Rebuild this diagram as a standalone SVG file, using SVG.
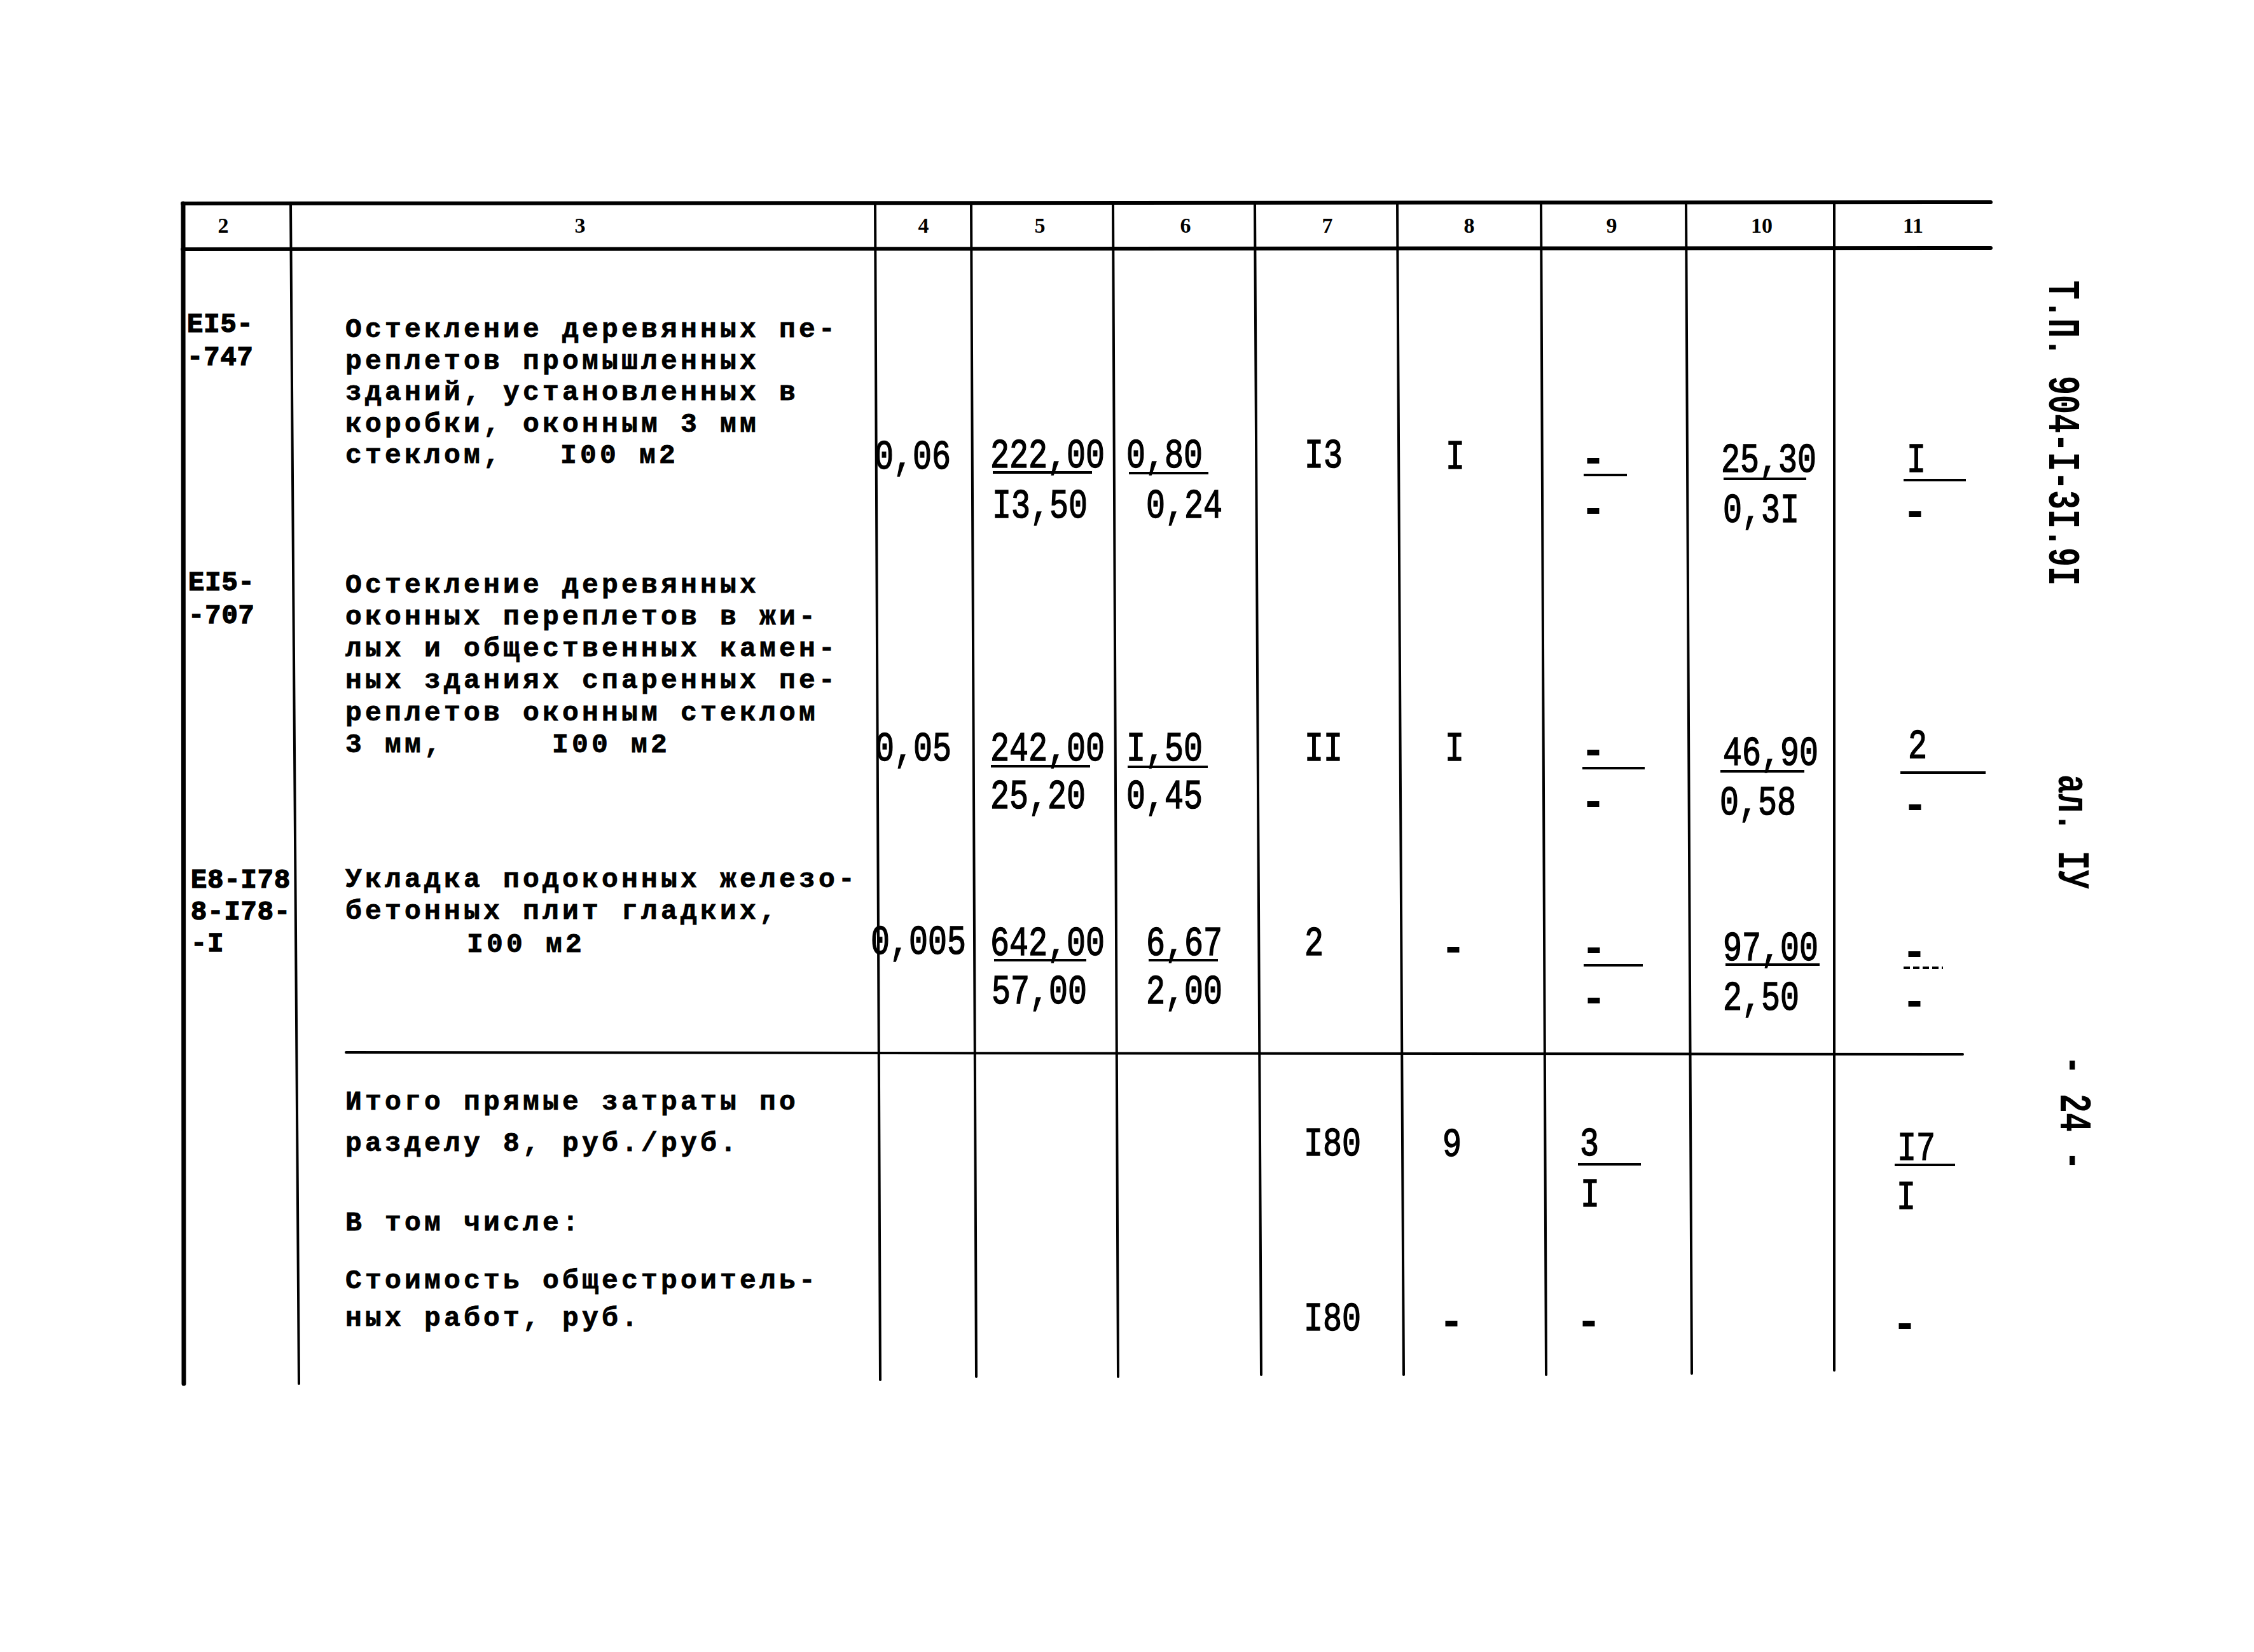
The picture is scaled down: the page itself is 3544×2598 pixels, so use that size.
<svg xmlns="http://www.w3.org/2000/svg" width="3544" height="2598" viewBox="0 0 3544 2598">
<style>
.g{stroke:#000;fill:none;stroke-linecap:round}
.thick{stroke-width:6}
.v{stroke-width:4}
.u{stroke:#000;stroke-width:4;fill:none}
.d{font-family:"Liberation Mono",monospace;font-size:43px;letter-spacing:5.2px;font-weight:bold;fill:#000;stroke:#000;stroke-width:0.8}
.n{font-family:"Liberation Mono",monospace;font-size:50px;fill:#000;stroke:#000;stroke-width:1.2}
.c{font-family:"Liberation Mono",monospace;font-size:42px;letter-spacing:1px;font-weight:bold;fill:#000;stroke:#000;stroke-width:1.5}
.h{font-family:"Liberation Serif",serif;font-size:34px;font-weight:bold;text-anchor:middle;fill:#000}
.m{font-family:"Liberation Mono",monospace;font-size:60px;font-weight:bold;text-anchor:middle;fill:#000;stroke:#000;stroke-width:2}
.s{font-family:"Liberation Mono",monospace;font-size:50px;font-weight:bold;fill:#000}
</style>
<rect width="3544" height="2598" fill="#fff"/>
<g id="grid">
<line class="g thick" x1="287" y1="320" x2="3130" y2="318"/>
<line class="g thick" x1="287" y1="392" x2="3130" y2="390"/>
<line class="g" stroke-width="7" x1="288" y1="320" x2="289" y2="2176"/>
<line class="g v" x1="457" y1="320" x2="470" y2="2176"/>
<line class="g v" x1="1376" y1="320" x2="1384" y2="2170"/>
<line class="g v" x1="1527" y1="320" x2="1535" y2="2165"/>
<line class="g v" x1="1750" y1="320" x2="1758" y2="2165"/>
<line class="g v" x1="1973" y1="320" x2="1983" y2="2162"/>
<line class="g v" x1="2197" y1="319" x2="2207" y2="2162"/>
<line class="g v" x1="2423" y1="319" x2="2431" y2="2162"/>
<line class="g v" x1="2651" y1="319" x2="2660" y2="2160"/>
<line class="g v" x1="2884" y1="318" x2="2884" y2="2155"/>
<line class="g" stroke-width="4" x1="544" y1="1655" x2="3086" y2="1658"/>
</g>
<g id="header">
<text class="h" x="351" y="366">2</text>
<text class="h" x="912" y="366">3</text>
<text class="h" x="1452" y="366">4</text>
<text class="h" x="1635" y="366">5</text>
<text class="h" x="1864" y="366">6</text>
<text class="h" x="2087" y="366">7</text>
<text class="h" x="2310" y="366">8</text>
<text class="h" x="2534" y="366">9</text>
<text class="h" x="2770" y="366">10</text>
<text class="h" x="3008" y="366">11</text>
</g>
<g id="row1">
<text class="c" x="294" y="522">ЕI5-</text>
<text class="c" x="294" y="574">-747</text>
<text class="d" x="543" y="530">Остекление деревянных пе-</text>
<text class="d" x="543" y="579.5">реплетов промышленных</text>
<text class="d" x="543" y="629">зданий, установленных в</text>
<text class="d" x="543" y="678.5">коробки, оконным 3 мм</text>
<text class="d" y="728"><tspan x="543">стеклом,</tspan><tspan x="881">I00 м2</tspan></text>
<text class="n" transform="translate(1375 737) scale(1 1.3)">0,06</text>
<text class="n" transform="translate(1557 735) scale(1 1.3)">222,00</text>
<line class="u" x1="1561" y1="743" x2="1717" y2="743"/>
<text class="n" transform="translate(1560 814) scale(1 1.3)">I3,50</text>
<text class="n" transform="translate(1771 735) scale(1 1.3)">0,80</text>
<line class="u" x1="1775" y1="744" x2="1900" y2="744"/>
<text class="n" transform="translate(1802 814) scale(1 1.3)">0,24</text>
<text class="n" transform="translate(2051 735) scale(1 1.3)">I3</text>
<text class="n" text-anchor="middle" transform="translate(2288 737) scale(1 1.3)">I</text>
<text class="m" x="2505" y="740">-</text>
<line class="u" x1="2490" y1="747" x2="2558" y2="747"/>
<text class="m" x="2505" y="819">-</text>
<text class="n" transform="translate(2706 742) scale(1 1.3)">25,30</text>
<line class="u" x1="2710" y1="753" x2="2840" y2="753"/>
<text class="n" transform="translate(2709 821) scale(1 1.3)">0,3I</text>
<text class="n" text-anchor="middle" transform="translate(3013 742) scale(1 1.3)">I</text>
<line class="u" x1="2993" y1="755" x2="3091" y2="755"/>
<text class="m" x="3011" y="824">-</text>
</g>
<g id="row2">
<text class="c" x="296" y="928">ЕI5-</text>
<text class="c" x="296" y="980">-707</text>
<text class="d" x="543" y="932">Остекление деревянных</text>
<text class="d" x="543" y="982">оконных переплетов в жи-</text>
<text class="d" x="543" y="1032">лых и общественных камен-</text>
<text class="d" x="543" y="1082">ных зданиях спаренных пе-</text>
<text class="d" x="543" y="1133">реплетов оконным стеклом</text>
<text class="d" y="1183"><tspan x="543">3 мм,</tspan><tspan x="868">I00 м2</tspan></text>
<text class="n" transform="translate(1376 1196) scale(1 1.3)">0,05</text>
<text class="n" transform="translate(1557 1196) scale(1 1.3)">242,00</text>
<line class="u" x1="1558" y1="1205" x2="1714" y2="1205"/>
<text class="n" transform="translate(1557 1271) scale(1 1.3)">25,20</text>
<text class="n" transform="translate(1771 1196) scale(1 1.3)">I,50</text>
<line class="u" x1="1773" y1="1206" x2="1899" y2="1206"/>
<text class="n" transform="translate(1771 1271) scale(1 1.3)">0,45</text>
<text class="n" transform="translate(2051 1196) scale(1 1.3)">II</text>
<text class="n" text-anchor="middle" transform="translate(2287 1196) scale(1 1.3)">I</text>
<text class="m" x="2505" y="1199">-</text>
<line class="u" x1="2488" y1="1208" x2="2586" y2="1208"/>
<text class="m" x="2505" y="1280">-</text>
<text class="n" transform="translate(2709 1203) scale(1 1.3)">46,90</text>
<line class="u" x1="2705" y1="1213" x2="2837" y2="1213"/>
<text class="n" transform="translate(2704 1281) scale(1 1.3)">0,58</text>
<text class="n" text-anchor="middle" transform="translate(3015 1192) scale(1 1.3)">2</text>
<line class="u" x1="2988" y1="1215" x2="3122" y2="1215"/>
<text class="m" x="3011" y="1285">-</text>
</g>
<g id="row3">
<text class="c" x="300" y="1396">Е8-I78</text>
<text class="c" x="300" y="1446">8-I78-</text>
<text class="c" x="300" y="1496">-I</text>
<text class="d" x="543" y="1395">Укладка подоконных железо-</text>
<text class="d" x="543" y="1445">бетонных плит гладких,</text>
<text class="d" x="734" y="1497">I00 м2</text>
<text class="n" transform="translate(1369 1500) scale(1 1.3)">0,005</text>
<text class="n" transform="translate(1557 1502) scale(1 1.3)">642,00</text>
<line class="u" x1="1563" y1="1510" x2="1708" y2="1510"/>
<text class="n" transform="translate(1559 1578) scale(1 1.3)">57,00</text>
<text class="n" transform="translate(1802 1502) scale(1 1.3)">6,67</text>
<line class="u" x1="1806" y1="1510" x2="1915" y2="1510"/>
<text class="n" transform="translate(1802 1578) scale(1 1.3)">2,00</text>
<text class="n" transform="translate(2051 1502) scale(1 1.3)">2</text>
<text class="m" x="2285" y="1509" font-size="44">-</text>
<text class="m" x="2506" y="1510" font-size="44">-</text>
<line class="u" x1="2490" y1="1518" x2="2583" y2="1518"/>
<text class="m" x="2506" y="1589">-</text>
<text class="n" transform="translate(2709 1510) scale(1 1.3)">97,00</text>
<line class="u" x1="2713" y1="1517" x2="2861" y2="1517"/>
<text class="n" transform="translate(2709 1588) scale(1 1.3)">2,50</text>
<text class="m" x="3010" y="1516" font-size="44">-</text>
<line class="u" x1="2993" y1="1522" x2="3055" y2="1522" stroke-dasharray="10 5"/>
<text class="m" x="3010" y="1594">-</text>
</g>
<g id="totals">
<text class="d" x="543" y="1745">Итого прямые затраты по</text>
<text class="d" x="543" y="1810">разделу 8, руб./руб.</text>
<text class="d" x="543" y="1935">В том числе:</text>
<text class="d" x="543" y="2026">Стоимость общестроитель-</text>
<text class="d" x="543" y="2085">ных работ, руб.</text>
<text class="n" transform="translate(2050 1817) scale(1 1.25)">I80</text>
<text class="n" text-anchor="middle" transform="translate(2283 1818) scale(1 1.25)">9</text>
<text class="n" text-anchor="middle" transform="translate(2499 1817) scale(1 1.25)">3</text>
<line class="u" x1="2481" y1="1831" x2="2580" y2="1831"/>
<text class="n" text-anchor="middle" transform="translate(2500 1897) scale(1 1.25)">I</text>
<text class="n" transform="translate(2983 1824) scale(1 1.25)">I7</text>
<line class="u" x1="2979" y1="1832" x2="3074" y2="1832"/>
<text class="n" text-anchor="middle" transform="translate(2997 1901) scale(1 1.25)">I</text>
<text class="n" transform="translate(2050 2092) scale(1 1.25)">I80</text>
<text class="m" x="2282" y="2097">-</text>
<text class="m" x="2498" y="2097">-</text>
<text class="m" x="2995" y="2101">-</text>
</g>
<g id="side">
<text class="s" transform="translate(3222 441) rotate(90) scale(1 1.4)">Т.П. 904-I-3I.9I</text>
<text class="s" transform="translate(3237 1218) rotate(90) scale(1 1.4)">ал. IУ</text>
<text class="s" transform="translate(3240 1660) rotate(90) scale(1 1.4)">- 24 -</text>
</g>
</svg>
